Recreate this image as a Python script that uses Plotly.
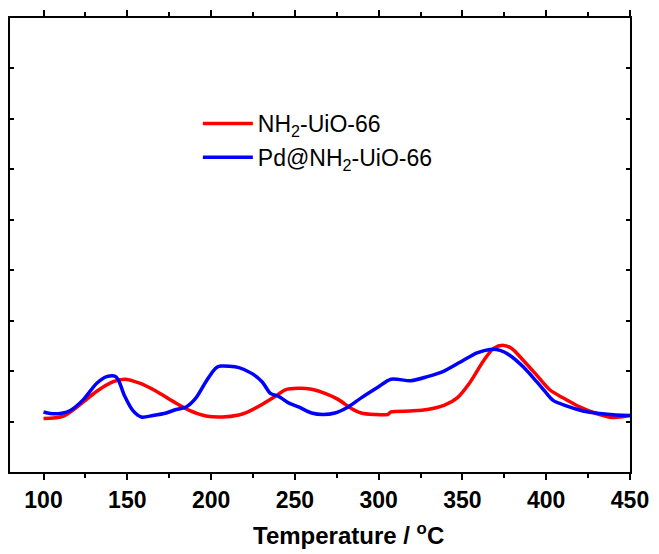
import plotly.graph_objects as go

# Temperature (°C) and signal for NH2-UiO-66
t_nh2 = [100, 112, 122, 131.8, 141.6, 148.5, 157.4, 167.3, 177.2, 187, 196.9, 206.7,
         216.6, 220.6, 230.4, 238.4, 244.3, 252.2, 260, 268, 275.8, 283.7, 289.6,
         297.6, 305.4, 307.4, 319.2, 329.1, 339, 346.9, 354.8, 362.7, 368.6, 374.5,
         379.4, 386.4, 394.3, 402.1, 410, 419.9, 429.8, 439.7, 444.6, 450]
v_nh2 = [1.06, 1.11, 1.34, 1.60, 1.79, 1.84, 1.76, 1.60, 1.40, 1.22, 1.11, 1.09,
         1.13, 1.17, 1.34, 1.50, 1.63, 1.66, 1.64, 1.56, 1.44, 1.26, 1.17,
         1.14, 1.14, 1.19, 1.21, 1.24, 1.32, 1.47, 1.79, 2.21, 2.45, 2.51,
         2.45, 2.21, 1.92, 1.63, 1.47, 1.29, 1.16, 1.08, 1.09, 1.12]

# Temperature (°C) and signal for Pd@NH2-UiO-66
t_pd = [100, 104, 110, 116, 123.9, 131.8, 137.7, 142.6, 144.6, 148.5, 153.5, 158.4,
        165.3, 173.2, 179.2, 185.1, 191, 196.9, 202.8, 205.8, 216.6, 224.5, 230.4,
        235.4, 240.3, 246.2, 252.2, 260, 266.9, 273.9, 281.8, 289.6, 299.5, 307.4,
        319.2, 329.1, 339, 348.8, 358.7, 366.6, 372.5, 378.4, 386.4, 394.3, 400.2,
        404.1, 412, 421.9, 431.7, 441.6, 450]
v_pd = [1.19, 1.16, 1.16, 1.22, 1.44, 1.76, 1.89, 1.90, 1.83, 1.50, 1.21, 1.09,
        1.12, 1.17, 1.24, 1.29, 1.47, 1.79, 2.06, 2.10, 2.07, 1.95, 1.79,
        1.56, 1.50, 1.37, 1.29, 1.17, 1.14, 1.17, 1.29, 1.47, 1.68, 1.84,
        1.81, 1.89, 2.00, 2.18, 2.36, 2.43, 2.41, 2.31, 2.08, 1.79, 1.56,
        1.42, 1.31, 1.21, 1.16, 1.13, 1.12]

x_range = [80, 450]
y_range = [0, 9]
x_ticks = [100, 150, 200, 250, 300, 350, 400, 450]

FONT = "Liberation Sans, Arial, sans-serif"

fig = go.Figure()
fig.add_trace(go.Scatter(x=t_nh2, y=v_nh2, mode="lines", name="NH<sub>2</sub>-UiO-66",
                         line=dict(color="#FF0000", width=3.5, shape="spline", smoothing=0.8),
                         legendgroup="a"))
fig.add_trace(go.Scatter(x=t_pd, y=v_pd, mode="lines", name="Pd@NH<sub>2</sub>-UiO-66",
                         line=dict(color="#0000FF", width=3.5, shape="spline", smoothing=0.8),
                         legendgroup="b"))

fig.update_layout(
    width=659, height=554,
    margin=dict(l=10, r=25, t=10, b=82),
    paper_bgcolor="white", plot_bgcolor="white",
    font=dict(family=FONT, color="black"),
    xaxis=dict(
        range=x_range, tickvals=x_ticks, ticktext=[str(v) for v in x_ticks],
        ticks="outside", ticklen=6, tickwidth=1.5, tickcolor="black",
        minor=dict(dtick=25, tick0=0, ticks="outside", ticklen=4, tickwidth=1.5, tickcolor="black"),
        showline=True, linecolor="black", linewidth=2, mirror="allticks",
        showgrid=False, zeroline=False,
        tickfont=dict(family=FONT, size=23, color="black", weight="bold"),
    ),
    yaxis=dict(
        range=y_range, dtick=1, ticks="inside", ticklen=4, tickwidth=1.5, tickcolor="black",
        showticklabels=False, showline=True, linecolor="black", linewidth=2, mirror="ticks",
        showgrid=False, zeroline=False,
    ),
    legend=dict(
        x=0.303, y=0.815, xanchor="left", yanchor="top",
        bgcolor="rgba(0,0,0,0)", borderwidth=0,
        font=dict(family=FONT, size=23, color="black"),
        tracegroupgap=1, itemwidth=50,
    ),
    annotations=[dict(
        text="Temperature / <sup>o</sup>C", xref="paper", yref="paper",
        x=0.546, y=-0.136, xanchor="center", yanchor="middle", showarrow=False,
        font=dict(family=FONT, size=24, color="black", weight="bold"),
    )],
)

fig.write_html("out.html")
